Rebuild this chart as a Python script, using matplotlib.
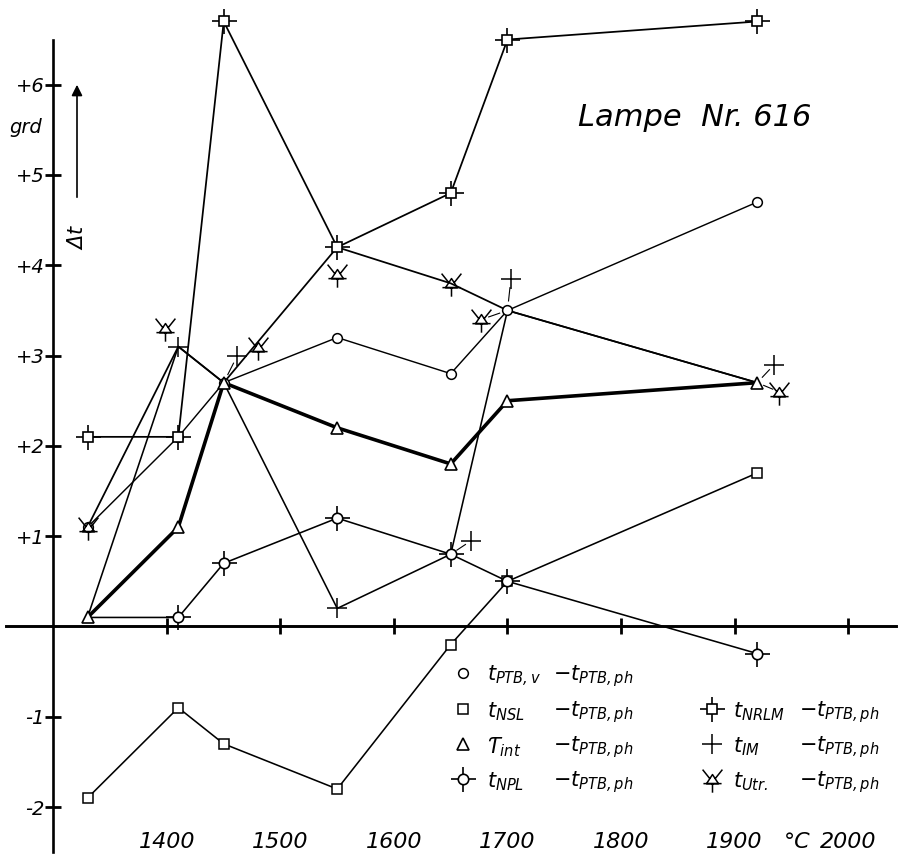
import matplotlib
matplotlib.use('Agg')
import matplotlib.pyplot as plt
from matplotlib.path import Path

plt.rcParams['font.family'] = ['DejaVu Sans']
plt.rcParams['font.style'] = 'italic'
plt.rcParams['mathtext.fontset'] = 'dejavusans'

# ---------------- data ----------------
temps = [1330, 1410, 1450, 1550, 1650, 1700, 1920]
ptb_v = [1.1, 2.1, 2.7, 3.2, 2.8, 3.5, 4.7]
nsl   = [-1.9, -0.9, -1.3, -1.8, -0.2, 0.5, 1.7]
t_int = [0.1, 1.1, 2.7, 2.2, 1.8, 2.5, 2.7]
npl   = [0.1, 0.1, 0.7, 1.2, 0.8, 0.5, -0.3]
nrlm  = [2.1, 2.1, 6.7, 4.2, 4.8, 6.5, 6.7]
im    = [0.1, 3.1, 2.7, 0.2, 0.8, 3.5, 2.7]
utr   = [1.1, 3.1, 2.7, 4.2, 3.8, 3.5, 2.7]

# markers drawn on the point itself
npl_marker_idx = [1, 2, 3, 4, 5, 6]
im_marker_idx = [1, 3]
utr_marker_idx = [0, 4]
# markers drawn beside a crowded point (with a short leader line)
im_offset_idx = [2, 4, 5, 6]
im_offset_t = [1462, 1668, 1703, 1935]
im_offset_v = [3.0, 0.95, 3.85, 2.9]
im_leader = [True, True, True, True]
utr_offset_idx = [1, 2, 3, 5, 6]
utr_offset_t = [1398, 1480, 1550, 1677, 1939]
utr_offset_v = [3.3, 3.1, 3.9, 3.4, 2.6]
utr_leader = [False, False, False, True, True]

x_ticks = [1400, 1500, 1600, 1700, 1800, 1900, 2000]
x_tick_labels = ['1400', '1500', '1600', '1700', '1800', '1900', '2000']
y_ticks = [-2, -1, 1, 2, 3, 4, 5, 6]
y_tick_labels = ['-2', '-1', '+1', '+2', '+3', '+4', '+5', '+6']

# ---------------- figure ----------------
W, H = 900, 857
fig = plt.figure(figsize=(W / 100, H / 100), dpi=100)
ax = fig.add_axes([0, 0, 1, 1])
ax.set_xlim(1252.9, 2045.8)
ax.set_ylim(-2.553, 6.938)
ax.patch.set_alpha(0)

for s in ['top', 'right']:
    ax.spines[s].set_visible(False)
ax.spines['left'].set_position(('data', 1300))
ax.spines['bottom'].set_position(('data', 0))
ax.spines['left'].set_bounds(-2.5, 6.5)
ax.spines['bottom'].set_bounds(1258, 2042)
ax.spines['left'].set_linewidth(1.9)
ax.spines['bottom'].set_linewidth(2.1)
ax.set_xticks(x_ticks)
ax.set_xticklabels([])
ax.set_yticks(y_ticks)
ax.set_yticklabels(y_tick_labels, fontsize=14, style='italic')
ax.tick_params(axis='both', direction='inout', length=11, width=2.0, pad=1)
for t, lab in zip(x_ticks, x_tick_labels):
    ax.text(t, -2.39, lab, ha='center', va='center', fontsize=16, style='italic')
ax.text(1955, -2.39, '°C', ha='center', va='center', fontsize=16, style='italic')

# Utr marker path
utr_verts = [(0, 0.3), (-0.36, -0.25), (0.36, -0.25), (0, 0.3),
             (-0.6, 0.6), (-0.16, 0.05),
             (0.6, 0.6), (0.16, 0.05),
             (-0.55, -0.25), (0.55, -0.25),
             (0, -0.25), (0, -0.8)]
utr_codes = [Path.MOVETO, Path.LINETO, Path.LINETO, Path.CLOSEPOLY,
             Path.MOVETO, Path.LINETO,
             Path.MOVETO, Path.LINETO,
             Path.MOVETO, Path.LINETO,
             Path.MOVETO, Path.LINETO]
utr_marker = Path(utr_verts, utr_codes)


def draw_marker(x, y, kind, transform=None, z=5):
    kw = dict(linestyle='none', zorder=z, clip_on=False)
    if transform is not None:
        kw['transform'] = transform
    if kind == 'circle':
        ax.plot(x, y, marker='o', ms=7, mfc='white', mec='black', mew=1.1, **kw)
    elif kind == 'square':
        ax.plot(x, y, marker='s', ms=6.5, mfc='white', mec='black', mew=1.1, **kw)
    elif kind == 'triangle':
        ax.plot(x, y, marker='^', ms=9, mfc='white', mec='black', mew=1.2, **kw)
    elif kind == 'nrlm':
        ax.plot(x, y, marker='+', ms=18, mec='black', mew=1.2, **kw)
        ax.plot(x, y, marker='s', ms=7, mfc='white', mec='black', mew=1.2, **kw)
    elif kind == 'npl':
        ax.plot(x, y, marker='+', ms=18, mec='black', mew=1.2, **kw)
        ax.plot(x, y, marker='o', ms=7.5, mfc='white', mec='black', mew=1.2, **kw)
    elif kind == 'im':
        ax.plot(x, y, marker='+', ms=15, mec='black', mew=1.1, **kw)
    elif kind == 'utr':
        ax.plot(x, y, marker=utr_marker, ms=19, mfc='none', mec='black', mew=1.1, **kw)


lw_thin = 1.15
# lines
ax.plot(temps, nsl, color='black', lw=lw_thin, zorder=2)
ax.plot(temps, npl, color='black', lw=lw_thin, zorder=2)
ax.plot(temps, ptb_v, color='black', lw=lw_thin * 0.9, zorder=2)
ax.plot(temps, nrlm, color='black', lw=lw_thin * 1.1, zorder=2)
ax.plot(temps, im, color='black', lw=lw_thin, zorder=2)
ax.plot(temps, utr, color='black', lw=lw_thin * 1.1, zorder=2)
ax.plot(temps, t_int, color='black', lw=2.6, zorder=3, solid_joinstyle='miter')

# leader lines for shifted markers
def leaders(series, idx, ts, vs, flags):
    for i, t, v, f in zip(idx, ts, vs, flags):
        if not f:
            continue
        x0, y0 = temps[i], series[i]
        ax.plot([x0 + 0.3 * (t - x0), x0 + 0.72 * (t - x0)],
                [y0 + 0.3 * (v - y0), y0 + 0.72 * (v - y0)],
                color='black', lw=0.8, zorder=2)

leaders(im, im_offset_idx, im_offset_t, im_offset_v, im_leader)
leaders(utr, utr_offset_idx, utr_offset_t, utr_offset_v, utr_leader)

# markers
draw_marker(temps, ptb_v, 'circle', z=5)
draw_marker(temps, nsl, 'square', z=5)
draw_marker([temps[i] for i in npl_marker_idx], [npl[i] for i in npl_marker_idx], 'npl', z=6)
draw_marker(temps, nrlm, 'nrlm', z=6)
draw_marker(temps, t_int, 'triangle', z=7)
draw_marker([temps[i] for i in im_marker_idx], [im[i] for i in im_marker_idx], 'im', z=8)
draw_marker(im_offset_t, im_offset_v, 'im', z=8)
draw_marker([temps[i] for i in utr_marker_idx], [utr[i] for i in utr_marker_idx], 'utr', z=8)
draw_marker(utr_offset_t, utr_offset_v, 'utr', z=8)

# ---------------- annotations ----------------
def fx(px):
    return px / W


def fy(py):
    return 1 - py / H


fig.text(fx(578), fy(117), 'Lampe  Nr. 616', ha='left', va='center', fontsize=22, style='italic')
fig.text(fx(26), fy(128), 'grd', ha='center', va='center', fontsize=14, style='italic')
ax.annotate('', xy=(fx(77), fy(82)), xytext=(fx(77), fy(200)),
            xycoords='figure fraction', textcoords='figure fraction',
            arrowprops=dict(arrowstyle='-|>', color='black', lw=1.2, mutation_scale=16))
fig.text(fx(77), fy(237), r'$\mathit{\Delta t}$', rotation=90, ha='center', va='center', fontsize=15)

# legend
sub = lambda name: r'$\mathit{t}_{\mathit{' + name + '}}$'
ref = r'$-\mathit{t}_{\mathit{PTB,ph}}$'
left_rows = [('circle', sub('PTB,v'), 676), ('square', sub('NSL'), 712),
             ('triangle', r'$\mathit{Ƭ}_{\mathit{int}}$', 747), ('npl', sub('NPL'), 782)]
right_rows = [('nrlm', sub('NRLM'), 712), ('im', sub('IM'), 747), ('utr', sub('Utr.'), 782)]
for kind, lab, py in left_rows:
    draw_marker([fx(463)], [fy(py - 3)], kind, transform=fig.transFigure, z=9)
    fig.text(fx(487), fy(py), lab, ha='left', va='center', fontsize=15)
    fig.text(fx(553), fy(py), ref, ha='left', va='center', fontsize=15)
for kind, lab, py in right_rows:
    draw_marker([fx(712)], [fy(py - 3)], kind, transform=fig.transFigure, z=9)
    fig.text(fx(733), fy(py), lab, ha='left', va='center', fontsize=15)
    fig.text(fx(799), fy(py), ref, ha='left', va='center', fontsize=15)

fig.savefig('out.png', dpi=100, facecolor='white')
